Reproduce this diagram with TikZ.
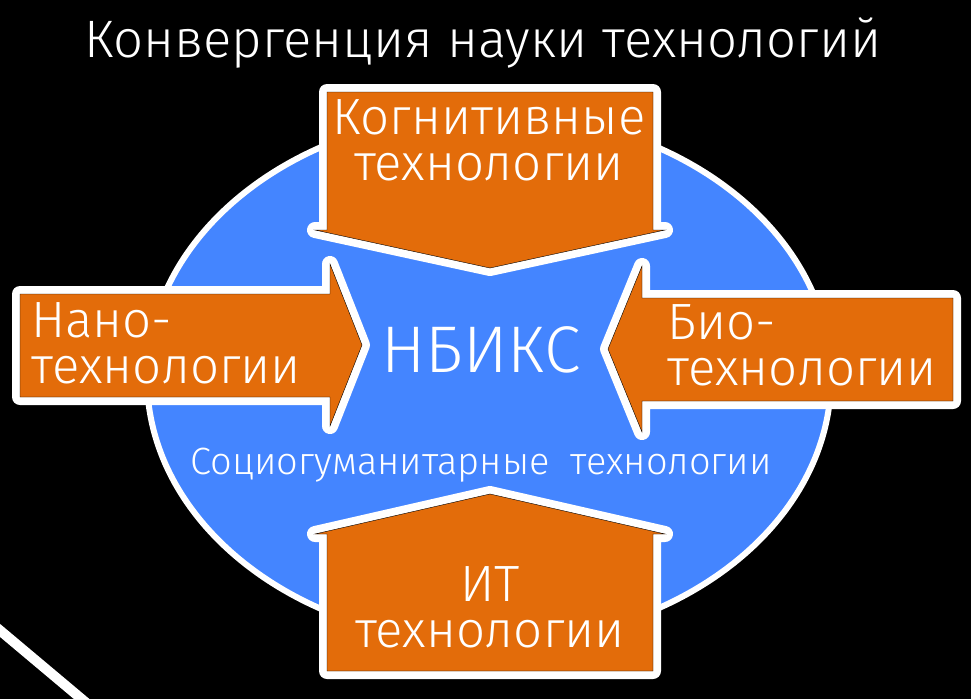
\documentclass[tikz,border=0pt]{standalone}
\usepackage{fontspec}
\setmainfont{Fira Sans Light}
\definecolor{nbblue}{RGB}{68,133,255}
\definecolor{nborange}{RGB}{227,108,10}
\tikzset{
  techbox/.style={fill=nborange, preaction={draw=white, line width=16pt, line join=round}},
  boxtext/.style={text=white, inner sep=0pt, font=\fontsize{51}{46}\selectfont},
}
\begin{document}
\begin{tikzpicture}[x=1pt,y=-1pt]
\fill[black] (0,0) rectangle (971,699);
\useasboundingbox (0,0) rectangle (971,699);
\node[text=white, inner sep=0pt, anchor=base, font=\fontsize{52.7}{60}\selectfont] (title) at (483,57) {Конвергенция науки технологий};
% ellipse
\draw[fill=nbblue, draw=white, line width=6pt] (489,378) ellipse [x radius=342, y radius=265];
% arrows
\draw[techbox] (327,92) -- (653,92) -- (653,230) -- (665,230) -- (490,268) -- (315,230) -- (327,230) -- cycle;
\draw[techbox] (327,671) -- (653,671) -- (653,534) -- (665,534) -- (490,494) -- (315,534) -- (327,534) -- cycle;
\draw[techbox] (20,294) -- (330,294) -- (330,264) -- (362,345) -- (330,426) -- (330,397) -- (20,397) -- cycle;
\draw[techbox] (953,298) -- (642,298) -- (642,266) -- (608,349) -- (642,432) -- (642,401) -- (953,401) -- cycle;
\node[boxtext, align=center] (kog) at (489,140) {Когнитивные\\технологии};
\node[boxtext, align=left, anchor=west] (nano) at (31,343) {Нано-\\технологии};
\node[boxtext, align=left, anchor=west] (bio) at (667,345) {Био-\\технологии};
\node[boxtext, align=center] (it) at (490,607) {ИТ\\технологии};
\node[text=white, inner sep=0pt, anchor=base, font=\fontsize{66}{66}\selectfont] (nbiks) at (481,372) {НБИКС};
\node[text=white, inner sep=0pt, anchor=base, font=\fontsize{38}{40}\selectfont] (soc) at (481,474) {Социогуманитарные\ \ технологии};
% line
\draw[white, line width=10pt] (-10,622) -- (90,706);
\end{tikzpicture}
\end{document}
